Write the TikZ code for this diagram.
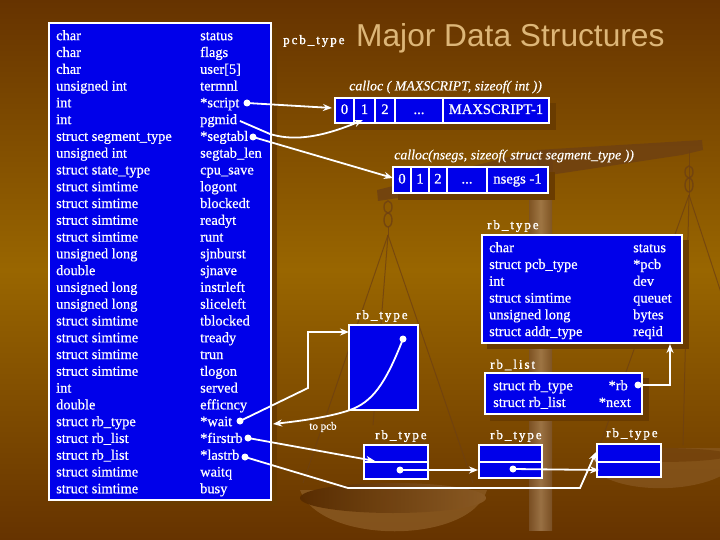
\documentclass[tikz,border=0pt]{standalone}
\usepackage{fontspec}
\usetikzlibrary{arrows.meta}
\setmainfont{Liberation Serif}[FakeBold=0.6]
\newfontfamily\lblfont[LetterSpace=15,FakeBold=1.4]{Liberation Serif}
\newfontfamily\italfont[FakeBold=0.2]{Liberation Serif Italic}
\newfontfamily\titlefont{Liberation Sans}
\definecolor{bgdark}{HTML}{663300}
\definecolor{bggold}{HTML}{996600}
\definecolor{shadowc}{HTML}{6A3C00}
\definecolor{panelblue}{HTML}{0000EA}
\definecolor{titlec}{HTML}{DDB678}
\definecolor{scalec}{HTML}{6E4012}
\definecolor{panc}{HTML}{8A5A24}
\tikzset{
  panel/.style={draw=white,line width=1.6pt,fill=panelblue,anchor=north west,inner sep=0pt,outer sep=0pt},
  cell/.style={draw=white,line width=1.4pt,fill=panelblue,anchor=north west,inner sep=0pt,outer sep=0pt,text=white,font=\fontsize{14.6}{16}\selectfont,text height=10pt,text depth=3pt,minimum height=25pt},
  listtext/.style={anchor=north west,inner sep=0pt,text=white,align=left,font=\fontsize{14.4}{16.78}\selectfont},
  lbl/.style={inner sep=0pt,text=white,font=\lblfont\fontsize{13}{14}\selectfont},
  calloc/.style={inner sep=0pt,text=white,font=\italfont\fontsize{13.9}{15}\selectfont},
  pin/.style={circle,fill=white,draw=none,minimum size=7pt,inner sep=0pt},
  link/.style={draw=white,line width=1.8pt,line join=miter},
  linka/.style={link,-{Stealth[length=9pt,width=7pt]}},
  shade box/.style={fill=shadowc},
  rope/.style={draw=scalec,line width=1pt,opacity=.75},
  knot/.style={draw=scalec,line width=1.4pt,opacity=.8}
}
\newcommand{\firstline}{\rule{0pt}{12pt}}
\begin{document}
\begin{tikzpicture}[x=1pt,y=-1pt]
\useasboundingbox (0,0) rectangle (720,540);
% background
\path[top color=bgdark,bottom color=bgdark,middle color=bggold,shading angle=0] (0,0) rectangle (720,540);
% balance scale silhouette
\fill[scalec,opacity=.8] (377,190) -- (537,150) -- (702,140) -- (703,150) -- (682,155) -- (378,201) -- cycle;
\path[left color=scalec!90!white,right color=scalec!90!white,middle color=panc!80!white,opacity=.85] (529,200) rectangle (552,530);
\fill[scalec,opacity=.8] (537,150) rectangle (553,200);
\path[knot] (388,207) ellipse [x radius=4,y radius=6];
\path[knot] (388,220) ellipse [x radius=4,y radius=7];
\path[knot] (689,172) ellipse [x radius=4,y radius=6];
\path[knot] (689,185) ellipse [x radius=4,y radius=7];
\path[rope] (388,227) -- (388,235);
\path[rope] (689,150) -- (689,195);
\path[rope] (388,235) -- (303,483);
\path[rope] (388,235) -- (473,483);
\path[rope] (388,235) -- (373,425);
\path[rope] (689,195) -- (600,445);
\path[rope] (689,195) -- (683,445);
\path[rope] (689,195) -- (730,320);
\fill[panc,opacity=.8] (300,490) .. controls (320,545) and (470,545) .. (487,490) -- cycle;
\path[left color=bgdark!85!black,right color=panc,opacity=.95] (393,498) ellipse [x radius=93,y radius=15];
\fill[panc,opacity=.65] (590,465) .. controls (610,495) and (700,495) .. (730,470) -- (730,448) -- (600,448) -- cycle;
\fill[bgdark,opacity=.45] (660,455) ellipse [x radius=70,y radius=7];
% shadows
\fill[shade box] (54,28) rectangle (277,505);
\fill[shade box] (340,103) rectangle (556,130);
\fill[shade box] (398,172) rectangle (555,200);
\fill[shade box] (487,240) rectangle (689,349);
\fill[shade box] (490,378) rectangle (649,421);
% main panel
\node[panel,minimum width=222pt,minimum height=477pt] (pcb) at (49,23) {};
\node[listtext] (pcbtypes) at (56,28) {\firstline char\\char\\char\\unsigned int\\int\\int\\struct segment\_type\\unsigned int\\struct state\_type\\struct simtime\\struct simtime\\struct simtime\\struct simtime\\unsigned long\\double\\unsigned long\\unsigned long\\struct simtime\\struct simtime\\struct simtime\\struct simtime\\int\\double\\struct rb\_type\\struct rb\_list\\struct rb\_list\\struct simtime\\struct simtime};
\node[listtext] (pcbnames) at (200,28) {\firstline status\\flags\\user[5]\\termnl\\*script\\pgmid\\*segtabl\\segtab\_len\\cpu\_save\\logont\\blockedt\\readyt\\runt\\sjnburst\\sjnave\\instrleft\\sliceleft\\tblocked\\tready\\trun\\tlogon\\served\\efficncy\\*wait\\*firstrb\\*lastrb\\waitq\\busy};
% titles
\node[lbl,anchor=west] (pcblabel) at (283,41) {pcb\_type};
\node[inner sep=0pt,anchor=west,text=titlec,font=\titlefont\fontsize{31.7}{36}\selectfont] (title) at (356,38) {Major Data Structures};
\node[calloc,anchor=west] (calloca) at (349,87) {calloc ( MAXSCRIPT, sizeof( int ))};
\node[calloc,anchor=west] (callocb) at (394,156) {calloc(nsegs, sizeof( struct segment\_type ))};
% script array
\node[cell,minimum width=19pt] (s0) at (335,98) {0};
\node[cell,minimum width=21pt] (s1) at (354,98) {1};
\node[cell,minimum width=20pt] (s2) at (375,98) {2};
\node[cell,minimum width=48pt] (s3) at (395,98) {...};
\node[cell,minimum width=106pt] (s4) at (443,98) {MAXSCRIPT-1};
% segment array
\node[cell,minimum width=18pt,minimum height=26pt] (g0) at (393,167) {0};
\node[cell,minimum width=18pt,minimum height=26pt] (g1) at (411,167) {1};
\node[cell,minimum width=18pt,minimum height=26pt] (g2) at (429,167) {2};
\node[cell,minimum width=40pt,minimum height=26pt] (g3) at (447,167) {...};
\node[cell,minimum width=61pt,minimum height=26pt] (g4) at (487,167) {nsegs -1};
% rb_type detail
\node[lbl,anchor=west] (rblabel) at (487,226) {rb\_type};
\node[panel,minimum width=200pt,minimum height=108pt] (rbbox) at (482,235) {};
\node[listtext] (rbtypes) at (489,240) {\firstline char\\struct pcb\_type\\int\\struct simtime\\unsigned long\\struct addr\_type};
\node[listtext] (rbnames) at (633,240) {\firstline status\\*pcb\\dev\\queuet\\bytes\\reqid};
% rb_list
\node[lbl,anchor=west] (listlabel) at (490,365) {rb\_list};
\node[panel,minimum width=157pt,minimum height=41pt] (listbox) at (485,373) {};
\node[listtext] (listtypes) at (493,378) {\firstline struct rb\_type\\struct rb\_list};
\node[listtext,align=right,anchor=north east] (listnames) at (631,378) {\firstline *rb\hspace*{3pt}\\*next};
% rb_type boxes
\node[lbl,anchor=west] (waitlabel) at (356,316) {rb\_type};
\node[panel,minimum width=69pt,minimum height=85pt] (waitbox) at (349,325) {};
\node[lbl,anchor=west] (l1) at (375,436) {rb\_type};
\node[lbl,anchor=west] (l2) at (490,436) {rb\_type};
\node[lbl,anchor=west] (l3) at (606,434) {rb\_type};
\node[panel,minimum width=64pt,minimum height=17pt] (a1) at (364,445) {};
\node[panel,minimum width=64pt,minimum height=17pt] (a2) at (364,462) {};
\node[panel,minimum width=63pt,minimum height=17pt] (b1) at (479,445) {};
\node[panel,minimum width=63pt,minimum height=16pt] (b2) at (479,462) {};
\node[panel,minimum width=64pt,minimum height=18pt] (c1) at (597,444) {};
\node[panel,minimum width=64pt,minimum height=15pt] (c2) at (597,462) {};
\node[inner sep=0pt,text=white,font=\fontsize{11}{12}\selectfont] (topcb) at (323,427) {to pcb};
% pins
\node[pin] (pscript) at (247,103) {};
\node[pin,minimum size=1pt] (ppgm) at (240,121) {};
\node[pin] (pseg) at (253,137) {};
\node[pin] (pwait) at (240,421) {};
\node[pin] (pfirst) at (248,438) {};
\node[pin] (plast) at (245,457) {};
\node[pin] (pcurve) at (403,339) {};
\node[pin] (prb) at (638,385) {};
\node[pin] (pa) at (400,470) {};
\node[pin] (pb) at (513,469) {};
% connector ends
\coordinate (escript) at (332,108);
\coordinate (epgm) at (363,120);
\coordinate (eseg) at (393,178);
\coordinate (ewait) at (349,332);
\coordinate (epcb) at (273,424);
\coordinate (efirst) at (375,461);
\coordinate (elast) at (596,452);
\coordinate (epa) at (478,470);
\coordinate (epb) at (599,470);
\coordinate (erb) at (670,344);
% connectors
\draw[linka] (pscript.center) -- (escript);
\draw[linka] (ppgm.center) -- (270,134) .. controls (290,140) and (315,140) .. (epgm);
\draw[linka] (pseg.center) -- (eseg);
\draw[linka] (pwait.center) -- (308,388) -- (308,332) -- (ewait);
\draw[linka] (pcurve.center) .. controls (385,385) and (372,402) .. (350,410) .. controls (330,417) and (300,421) .. (epcb);
\draw[linka] (pfirst.center) -- (efirst);
\draw[linka] (plast.center) -- (348,488) -- (580,488) -- (elast);
\draw[linka] (pa.center) -- (epa);
\draw[linka] (pb.center) -- (epb);
\draw[linka] (prb.center) -- (670,385) -- (erb);
\end{tikzpicture}
\end{document}
